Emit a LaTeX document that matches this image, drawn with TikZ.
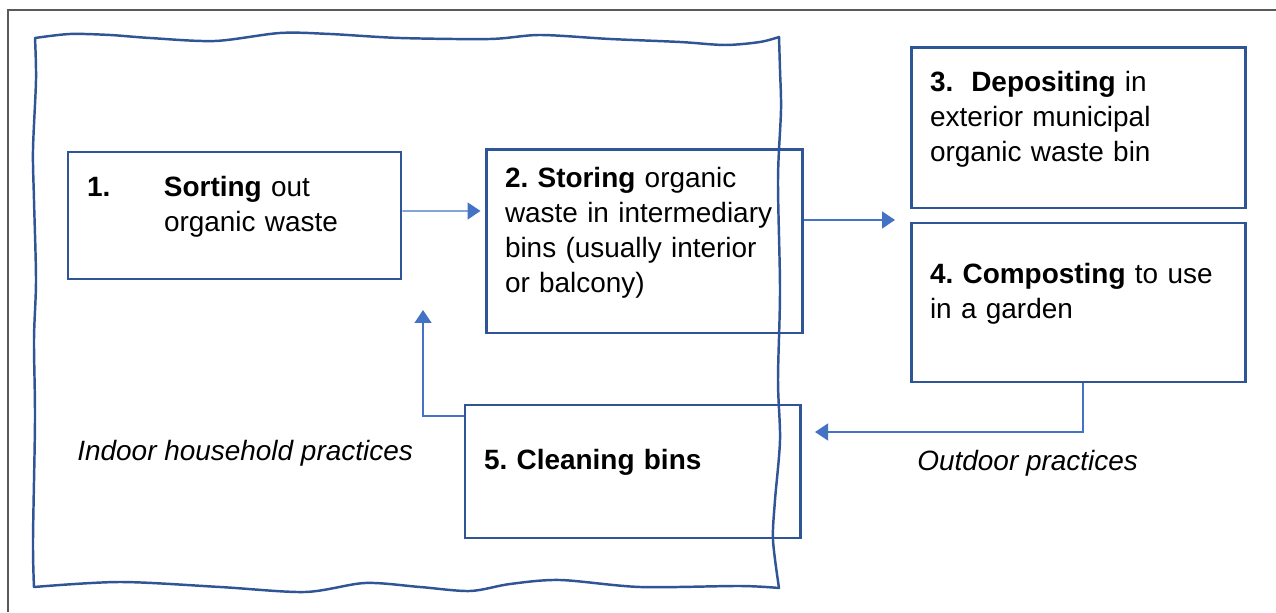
\documentclass[tikz,border=0pt]{standalone}
\usepackage{fontspec}
\setmainfont{Liberation Sans}
\frenchspacing
\usetikzlibrary{arrows.meta, positioning}
\definecolor{boxblue}{RGB}{47,85,151}
\definecolor{flowblue}{RGB}{68,114,196}
\tikzset{
    stage/.style={draw=boxblue, line width=1.7pt, align=left, inner xsep=0.38cm, inner ysep=0.1cm,
        execute at end node={\par\vspace*{0.36cm}}, font=\fontsize{15.9}{19.9}\selectfont},
    flow/.style={draw=flowblue, line width=0.8pt, -{Triangle[length=0.26cm, width=0.34cm]}},
    place/.style={inner sep=0pt, anchor=west, font=\fontsize{15.9}{19.9}\selectfont\itshape}
}

\begin{document}
\begin{tikzpicture}
        \useasboundingbox (0,0) rectangle (25.52,12.24);
        \draw[gray!70!black, line width=0.8pt] (0.16,0) -- (0.16,12.04) -- (25.52,12.04);
        \draw[boxblue, line width=1.4pt, line join=round]
            plot[smooth] coordinates {(0.70,11.48) (1.40,11.56) (2.20,11.54) (3.00,11.48) (4.30,11.42)
                (5.60,11.58) (6.60,11.56) (8.00,11.48) (9.80,11.46) (10.80,11.54) (12.20,11.46)
                (13.60,11.40) (14.50,11.34) (15.20,11.40) (15.58,11.50)}
            -- plot[smooth] coordinates {(15.58,11.50) (15.60,10.84) (15.62,10.04) (15.56,8.64)
                (15.60,6.44) (15.56,4.64) (15.60,3.44) (15.50,2.24) (15.46,1.44) (15.58,0.48)}
            -- plot[smooth] coordinates {(15.58,0.48) (14.80,0.52) (12.80,0.50) (11.20,0.64)
                (10.20,0.56) (9.40,0.42) (8.40,0.50) (7.30,0.58) (6.10,0.40) (4.40,0.50)
                (2.40,0.60) (0.68,0.50)}
            -- plot[smooth] coordinates {(0.68,0.50) (0.66,1.44) (0.70,3.84) (0.68,5.44)
                (0.72,6.64) (0.68,8.24) (0.66,9.24) (0.72,10.64) (0.70,11.48)}
            -- cycle;

        \node[stage, text width=5.90cm, minimum height=2.54cm] (sort) at (4.69,7.93)
            {\makebox[1.54cm][l]{\textbf{1.}}\textbf{Sorting} out\\\hspace*{1.54cm}organic waste};
        \node[stage, text width=5.56cm, minimum height=3.66cm] (store) at (12.88,7.41)
            {\textbf{2. Storing} organic\\waste in intermediary\\bins (usually interior\\or balcony)};
        \node[stage, text width=5.92cm, minimum height=3.20cm] (deposit) at (21.56,9.68)
            {\textbf{3.}\hspace{0.36cm}\textbf{Depositing} in\\exterior municipal\\organic waste bin};
        \node[stage, text width=5.92cm, minimum height=3.18cm] (compost) at (21.56,6.19)
            {\textbf{4. Composting} to use\\in a garden};
        \node[stage, text width=5.94cm, minimum height=2.66cm] (clean) at (12.65,2.81)
            {\textbf{5. Cleaning bins}};

        \node[place] (indoor) at (1.54,3.18) {Indoor household practices};
        \node[place] (outdoor) at (18.34,2.98) {Outdoor practices};

        \coordinate (split) at (17.90,7.84);
        \coordinate (back) at (16.30,3.60);
        \coordinate (up) at (8.46,6.04);

        \draw[flow] ([yshift=0.09cm]sort.east) -- ([xshift=-0.08cm, yshift=0.61cm]store.west);
        \draw[flow] ([yshift=0.43cm]store.east) -- (split);
        \draw[flow] ([xshift=0.10cm]compost.south) |- (back);
        \draw[flow] ([yshift=1.11cm]clean.west) -| (up);
\end{tikzpicture}
\end{document}
